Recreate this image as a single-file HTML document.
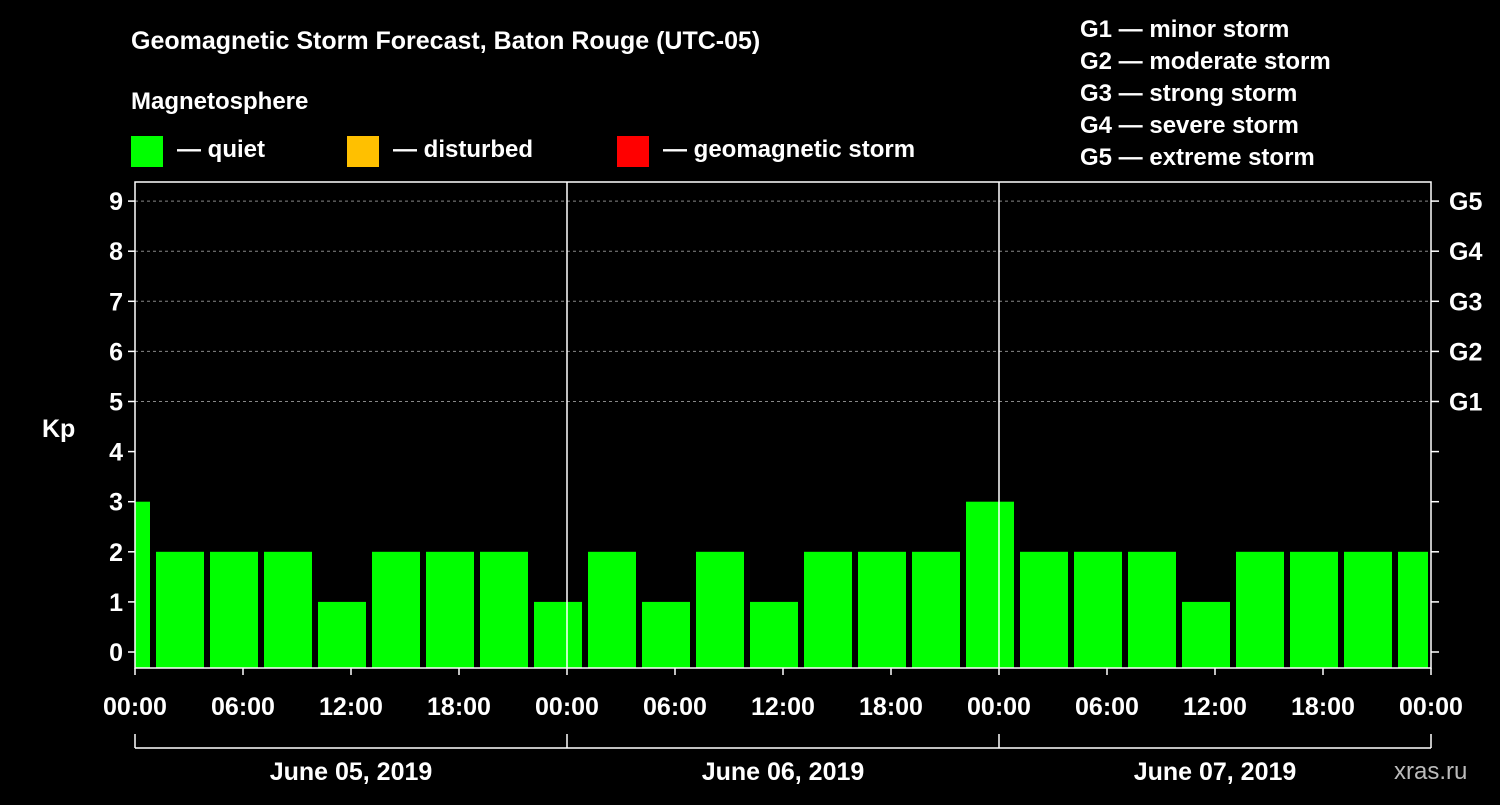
<!DOCTYPE html>
<html><head><meta charset="utf-8"><style>
html,body{margin:0;padding:0;background:#000;}
svg text{font-family:"Liberation Sans",sans-serif;font-weight:bold;fill:#fff;}
</style></head><body>
<svg id="chart" width="1500" height="800" viewBox="0 0 1500 800">
<rect x="0" y="0" width="1500" height="800" fill="#000"/>
<text x="131" y="49" font-size="25">Geomagnetic Storm Forecast, Baton Rouge (UTC-05)</text>
<text x="131" y="109" font-size="24">Magnetosphere</text>
<g><rect x="131" y="136" width="32" height="31" fill="#00ff00"/><text x="177" y="157" font-size="24">— quiet</text></g>
<g><rect x="347" y="136" width="32" height="31" fill="#ffc000"/><text x="393" y="157" font-size="24">— disturbed</text></g>
<g><rect x="617" y="136" width="32" height="31" fill="#ff0000"/><text x="663" y="157" font-size="24">— geomagnetic storm</text></g>
<g font-size="24">
<text x="1080" y="37">G1 — minor storm</text>
<text x="1080" y="69">G2 — moderate storm</text>
<text x="1080" y="101">G3 — strong storm</text>
<text x="1080" y="133">G4 — severe storm</text>
<text x="1080" y="165">G5 — extreme storm</text>
</g>
<text x="42" y="437" font-size="25">Kp</text>
<g id="grid"></g><g id="bars"></g><g id="axes"></g>
<text x="1394" y="779" font-size="24" fill="#bbb" style="fill:#bbb;font-weight:normal">xras.ru</text>
</svg>
<script>
const kpValues=[3,2,2,2,1,2,2,2,1,2,1,2,1,2,2,2,3,2,2,2,1,2,2,2,2];
const yTicks=[0,1,2,3,4,5,6,7,8,9];
const gLabels=["G1","G2","G3","G4","G5"];
const xTickLabels=["00:00","06:00","12:00","18:00","00:00","06:00","12:00","18:00","00:00","06:00","12:00","18:00","00:00"];
const dayLabels=["June 05, 2019","June 06, 2019","June 07, 2019"];
const NS="http://www.w3.org/2000/svg";
const X0=135,X1=1431,YB=668,YT=182;
const hourStart=-2, hours=72; // first bin starts 22:00 previous day
const xs=h=>X0+(h/hours)*(X1-X0);
const ys=v=>652-v*50.1;
function mk(tag,attrs,parent){const e=document.createElementNS(NS,tag);for(const k in attrs)e.setAttribute(k,attrs[k]);parent.appendChild(e);return e;}
const grid=document.getElementById('grid'),bars=document.getElementById('bars'),axes=document.getElementById('axes');
mk('rect',{x:X0,y:YT,width:X1-X0,height:YB-YT,fill:'none',stroke:'#fff','stroke-width':1.5},axes);
yTicks.forEach(v=>{
  const y=ys(v);
  if(v>=5){const l=mk('line',{x1:X0,x2:X1,y1:y,y2:y,stroke:'#888','stroke-dasharray':'3,3'},grid);
  
  }
  mk('line',{x1:X0-7,x2:X0,y1:y,y2:y,stroke:'#fff','stroke-width':1.5},axes);
  mk('line',{x1:X1,x2:X1+8,y1:y,y2:y,stroke:'#fff','stroke-width':1.5},axes);
  const t=mk('text',{x:X0-12,y:y+9,'text-anchor':'end','font-size':25},axes);t.textContent=v;
  
  
  if(v>=5){const g=mk('text',{x:X1+18,y:y+9,'font-size':25},axes);g.textContent=gLabels[v-5];
  
  }
});
kpValues.forEach((v,i)=>{
  let a=hourStart+i*3,b=a+3;
  let xa=Math.max(xs(a)+3,X0),xb=Math.min(xs(b)-3,X1-3);
  const col=v>=5?'#ff0000':(v>=4?'#ffc000':'#00ff00');
  const r=mk('rect',{x:xa,y:ys(v),width:xb-xa,height:YB-ys(v),fill:col},bars);
  
  
});
for(let d=1;d<3;d++){const x=xs(d*24);mk('line',{x1:x,x2:x,y1:YT,y2:YB,stroke:'#fff','stroke-width':1.5},axes);}
xTickLabels.forEach((s,i)=>{
  const x=xs(i*6);
  mk('line',{x1:x,x2:x,y1:YB,y2:YB+7,stroke:'#fff','stroke-width':1.5},axes);
  const t=mk('text',{x:x,y:715,'text-anchor':'middle','font-size':25},axes);t.textContent=s;
  
  
});
mk('line',{x1:X0,x2:X1,y1:748,y2:748,stroke:'#fff','stroke-width':1.5},axes);
for(let d=0;d<=3;d++){const x=xs(d*24);mk('line',{x1:x,x2:x,y1:734,y2:748,stroke:'#fff','stroke-width':1.5},axes);}
dayLabels.forEach((s,i)=>{
  const t=mk('text',{x:xs(i*24+12),y:780,'text-anchor':'middle','font-size':25},axes);t.textContent=s;
  
  
});
</script>
</body></html>
